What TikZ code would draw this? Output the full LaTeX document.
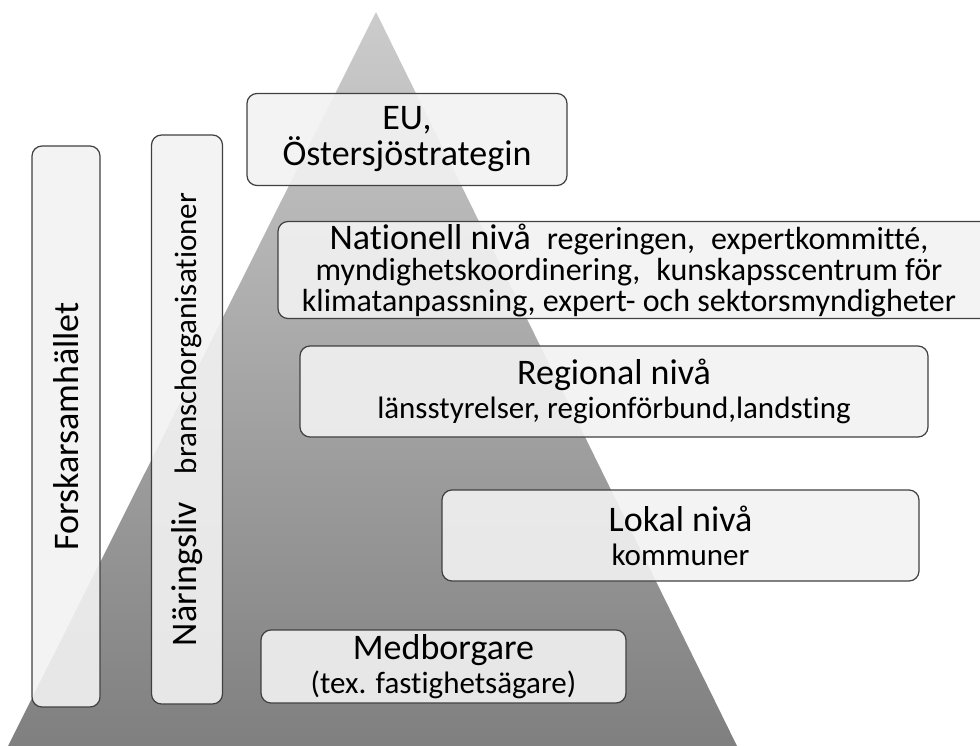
\documentclass[tikz,border=0pt]{standalone}
\usepackage{fontspec}
\setmainfont{Carlito}[Ligatures=NoCommon]
\usetikzlibrary{positioning}
\newcommand{\bigfont}{\fontsize{36}{35}\selectfont}
\newcommand{\smallfont}{\fontsize{31}{34}\selectfont}

\begin{document}
\begin{tikzpicture}[x=1pt,y=-1pt,
  level/.style={rectangle, draw=black!75, line width=1.2pt, fill=black!5, fill opacity=0.9, text opacity=1,
    rounded corners=10pt, align=center, inner sep=2pt, font=\smallfont},
  pillar/.style={level, rotate=90}]
  \useasboundingbox (0,0) rectangle (980,746);
  \clip (0,0) rectangle (980,746);
  \shade[top color=black!20, bottom color=black!50] (376,12) -- (737,746) -- (8,746) -- cycle;

  \node [level, minimum width=320, minimum height=92, font=\fontsize{36}{36}\selectfont] (eu) at (407,139.5)
    {EU,\\Östersjöstrategin};
  \node [level, minimum width=730, minimum height=90, font=\fontsize{32}{31}\selectfont] (nat) at (643,270)
    {\hspace*{-28pt}{\bigfont Nationell nivå}\hspace{0.5em}regeringen,\hspace{0.5em}expertkommitté,\\
     \hspace*{-28pt}myndighetskoordinering,\hspace{0.5em}kunskapsscentrum för\\
     \hspace*{-28pt}klimatanpassning, expert- och sektorsmyndigheter};
  \node [level, minimum width=628, minimum height=91] (reg) at (614,391.5)
    {\bigfont Regional nivå\\länsstyrelser, regionförbund,landsting};
  \node [level, minimum width=477, minimum height=91] (lok) at (680.5,535.5)
    {\bigfont Lokal nivå\\kommuner};
  \node [level, minimum width=365, minimum height=73] (med) at (443.5,666.5)
    {\bigfont Medborgare\\(tex. fastighetsägare)};

  \node [pillar, minimum width=561, minimum height=68] (forsk) at (66,426.5)
    {\bigfont Forskarsamhället};
  \node [pillar, minimum width=569, minimum height=71] (nar) at (187,419.5)
    {{\bigfont Näringsliv}\hspace{0.9em}branschorganisationer};
\end{tikzpicture}
\end{document}
